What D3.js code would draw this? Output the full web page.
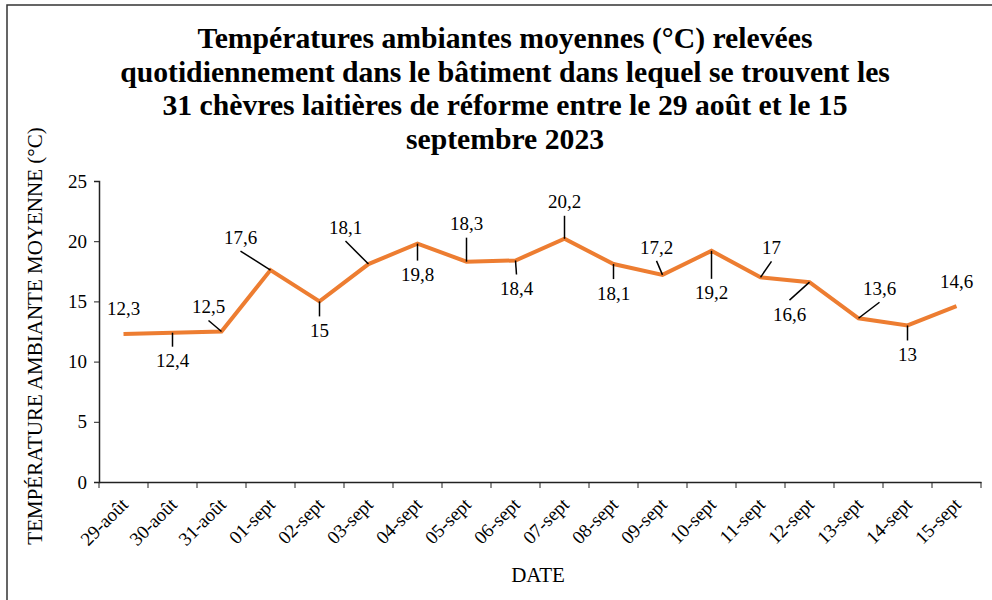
<!DOCTYPE html>
<html>
<head>
<meta charset="utf-8">
<script src="https://cdnjs.cloudflare.com/ajax/libs/d3/7.8.5/d3.min.js"></script>
<style>
  body { margin: 0; background: #fff; }
  svg text { font-family: "Liberation Serif", "Times New Roman", serif; fill: #000; }
</style>
</head>
<body>
<div id="chart"></div>
<script>
// data
var dates = ["29-août", "30-août", "31-août", "01-sept", "02-sept", "03-sept", "04-sept", "05-sept", "06-sept",
             "07-sept", "08-sept", "09-sept", "10-sept", "11-sept", "12-sept", "13-sept", "14-sept", "15-sept"];
var temps = [12.3, 12.4, 12.5, 17.6, 15, 18.1, 19.8, 18.3, 18.4, 20.2, 18.1, 17.2, 19.2, 17, 16.6, 13.6, 13, 14.6];
var yTicks = [0, 5, 10, 15, 20, 25];
var titleLines = ["Températures ambiantes moyennes (°C) relevées",
                  "quotidiennement dans le bâtiment dans lequel se trouvent les",
                  "31 chèvres laitières de réforme entre le 29 août et le 15",
                  "septembre 2023"];

// where each data label sits relative to its point (px)
var labelOffsets = [[0, -26], [0, 28], [-13, -25], [-30, -33], [0, 29], [-23, -37], [0, 31], [0, -38], [1, 28],
                    [0, -37], [0, 29], [-6, -28], [0, 42], [11, -30], [-20, 32], [21, -30], [0, 29], [0, -25]];

var W = 992, H = 600;
var margin = {top: 181, right: 11, bottom: 118, left: 99};
var serif = '"Liberation Serif", "Times New Roman", serif';

var svg = d3.select("#chart").append("svg")
    .attr("width", W)
    .attr("height", H);

// outer frame
svg.append("rect")
    .attr("x", 7).attr("y", 5)
    .attr("width", W).attr("height", H)
    .attr("fill", "none")
    .attr("stroke", "#333")
    .attr("stroke-width", 1.5);

var x = d3.scaleBand().domain(dates).range([margin.left, W - margin.right]);
var y = d3.scaleLinear().domain([0, 25]).range([H - margin.bottom, margin.top]);

// title
svg.append("text")
    .attr("text-anchor", "middle")
    .style("font-weight", "bold")
    .style("font-size", "29.7px")
    .selectAll("tspan")
    .data(titleLines)
    .enter().append("tspan")
      .attr("x", 505)
      .attr("y", function(d, i) { return 48 + i * 33.5; })
      .text(function(d) { return d; });

// Y axis
var yAxis = svg.append("g")
    .attr("transform", "translate(" + margin.left + ",0)")
    .call(d3.axisLeft(y).tickValues(yTicks).tickSize(5).tickPadding(7));
yAxis.attr("font-family", serif);
yAxis.selectAll("text").style("font-size", "19px");

// X axis
var xAxis = svg.append("g")
    .attr("font-family", serif)
    .attr("transform", "translate(0," + (H - margin.bottom) + ")")
    .call(d3.axisBottom(x).tickSize(0).tickFormat(""));

// tick marks on category boundaries
var bounds = dates.map(function(d) { return x(d); }).concat([x.range()[1]]);
xAxis.selectAll(".bound")
    .data(bounds)
    .enter().append("line")
      .attr("class", "bound")
      .attr("x1", function(d) { return d; })
      .attr("x2", function(d) { return d; })
      .attr("y1", 0).attr("y2", 6)
      .attr("stroke", "#222");

xAxis.selectAll(".lbl")
    .data(dates)
    .enter().append("text")
      .attr("class", "lbl")
      .attr("text-anchor", "end")
      .attr("transform", function(d) {
        return "translate(" + (x(d) + x.bandwidth() / 2 + 1) + ",19) rotate(-45)";
      })
      .attr("dy", "0.35em")
      .style("font-size", "19px")
      .text(function(d) { return d; });

svg.selectAll(".domain").attr("stroke", "#222").attr("stroke-width", 1.5);
svg.selectAll(".tick line").attr("stroke", "#222");

// axis titles
svg.append("text")
    .attr("transform", "translate(42,336) rotate(-90)")
    .attr("text-anchor", "middle")
    .style("font-size", "21px")
    .text("TEMPÉRATURE AMBIANTE MOYENNE (°C)");

svg.append("text")
    .attr("x", 538).attr("y", 582)
    .attr("text-anchor", "middle")
    .style("font-size", "21px")
    .text("DATE");

// the line
var line = d3.line()
    .x(function(d, i) { return x(dates[i]) + x.bandwidth() / 2; })
    .y(function(d) { return y(d); });

svg.append("path")
    .datum(temps)
    .attr("d", line)
    .attr("fill", "none")
    .attr("stroke", "#ED7D31")
    .attr("stroke-width", 4)
    .attr("stroke-linejoin", "miter");

// data labels with leader lines
var labels = svg.append("g");
temps.forEach(function(v, i) {
  var px = x(dates[i]) + x.bandwidth() / 2,
      py = y(v),
      dx = labelOffsets[i][0],
      dy = labelOffsets[i][1];
  var cx = px + dx, cy = py + dy;
  if (Math.sqrt(dx * dx + dy * dy) > 27) {
    labels.append("line")
        .attr("x1", px).attr("y1", py)
        .attr("x2", cx).attr("y2", cy + (dy < 0 ? 14 : -14))
        .attr("stroke", "#000")
        .attr("stroke-width", 1.5);
  }
  labels.append("text")
      .attr("x", cx).attr("y", cy)
      .attr("dy", "0.35em")
      .attr("text-anchor", "middle")
      .style("font-size", "19px")
      .text(String(v).replace(".", ","));
});
</script>
</body>
</html>
